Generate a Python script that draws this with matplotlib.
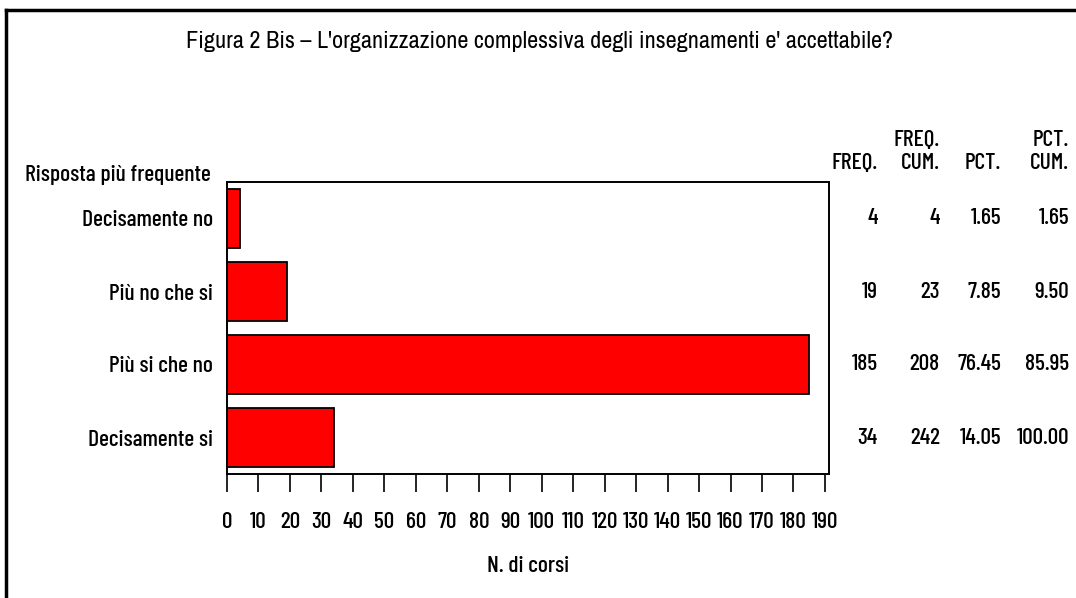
import matplotlib
matplotlib.use("Agg")
import matplotlib.pyplot as plt
from matplotlib import font_manager
from matplotlib.transforms import blended_transform_factory
from matplotlib.lines import Line2D

# dati
categorie = ["Decisamente no", "Più no che si", "Più si che no", "Decisamente si"]
freq = [4, 19, 185, 34]
freq_cum = [4, 23, 208, 242]
pct = ["1.65", "7.85", "76.45", "14.05"]
pct_cum = ["1.65", "9.50", "85.95", "100.00"]
xticks = list(range(0, 200, 10))


# font stretti: cerca per nome di file, altrimenti DejaVu Sans
def trova(*files):
    for nome in files:
        for f in font_manager.fontManager.ttflist:
            if f.fname.split('/')[-1] == nome:
                return font_manager.FontProperties(fname=f.fname)
    return font_manager.FontProperties(family='DejaVu Sans')


FP_TIT = trova("ArchivoNarrow[wght].ttf", "BarlowSemiCondensed-Regular.ttf", "DejaVuSansCondensed.ttf")
FP = trova("BarlowCondensed-Medium.ttf", "BarlowCondensed-Regular.ttf", "DejaVuSansCondensed.ttf")

W, H = 1076, 598
fig = plt.figure(figsize=(W / 100, H / 100), dpi=100)
renderer = fig.canvas.get_renderer()


def fx(x):
    return x / W


def fy(y):
    return 1 - y / H


def misura(testo, size, fp):
    t = fig.text(0, 0, testo, fontproperties=fp, fontsize=size)
    w = t.get_window_extent(renderer).width
    t.remove()
    return w


titolo = "Figura 2 Bis \u2013 L'organizzazione complessiva degli insegnamenti e' accettabile?"
# dimensioni scelte in base alla larghezza dei testi nel riferimento
size_titolo = 20 * 705 / misura(titolo, 20, FP_TIT)
size_testo = min(14 * 131 / misura("Decisamente no", 14, FP), 17)
size_tick = min(size_testo, 14 * 28 / misura("100", 14, FP))

# cornice esterna
fig.add_artist(Line2D([fx(6), fx(6)], [fy(10), 0], color='black', lw=2.5))
fig.add_artist(Line2D([fx(6), 1], [fy(10), fy(10)], color='black', lw=2.5))

fig.text(fx(540), fy(42), titolo, ha='center', va='center', fontproperties=FP_TIT, fontsize=size_titolo)

ax = fig.add_axes([fx(227), fy(474), fx(829) - fx(227), (474 - 182) / H])
y = list(range(len(categorie)))
ax.barh(y, freq, height=0.81, color='#ff0000', edgecolor='black', linewidth=1.3)
ax.set_ylim(3.5, -0.5)
ax.set_xlim(0, 191.3)
ax.set_yticks(y)
ax.set_yticklabels(categorie, fontproperties=FP, fontsize=size_testo)
ax.tick_params(axis='y', length=0, pad=10)
ax.set_xticks(xticks)
ax.set_xticklabels([str(t) for t in xticks], fontproperties=FP, fontsize=size_tick)
ax.tick_params(axis='x', direction='out', length=13, width=1.2, pad=14)
for s in ax.spines.values():
    s.set_linewidth(1.4)
ax.set_xlabel("N. di corsi", fontproperties=FP, fontsize=size_testo, labelpad=18)

fig.text(fx(25), fy(175), "Risposta più frequente", ha='left', va='center',
         fontproperties=FP, fontsize=size_testo)

# tabella a destra
tr = blended_transform_factory(fig.transFigure, ax.transData)
colonne = [(878, freq, "", "FREQ."), (940, freq_cum, "FREQ.", "CUM."),
           (1001, pct, "", "PCT."), (1069, pct_cum, "PCT.", "CUM.")]
for xr, valori, h1, h2 in colonne:
    if h1:
        fig.text(fx(xr), fy(140), h1, ha='right', va='center', fontproperties=FP, fontsize=size_tick)
    fig.text(fx(xr), fy(163), h2, ha='right', va='center', fontproperties=FP, fontsize=size_tick)
    for i, v in enumerate(valori):
        ax.text(fx(xr), i, str(v), transform=tr, ha='right', va='center',
                fontproperties=FP, fontsize=size_tick)

fig.savefig("out.png", dpi=100)
